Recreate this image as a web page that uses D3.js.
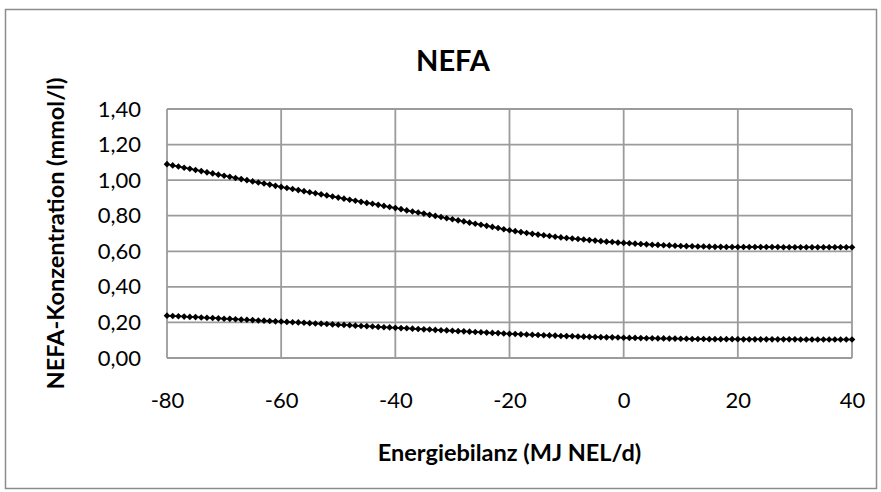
<!DOCTYPE html>
<html>
<head>
<meta charset="utf-8">
<script src="https://cdn.jsdelivr.net/npm/d3@7"></script>
<style>
  body { margin: 0; background: #fff; }
  text { font-family: Lato, "Open Sans", sans-serif; fill: #000; }
</style>
</head>
<body>
<div id="chart"></div>
<script>
// Energiebilanz (MJ NEL/d), ein Punkt pro Einheit von -80 bis 40
const energyStart = -80;

// obere Kurve (mmol/l)
const upperSeries = [
  1.090, 1.083, 1.077, 1.070, 1.064, 1.057, 1.051, 1.044, 1.038, 1.031,
  1.025, 1.019, 1.012, 1.006, 1.000, 0.993, 0.987, 0.981, 0.975, 0.968,
  0.962, 0.956, 0.950, 0.944, 0.938, 0.932, 0.926, 0.920, 0.914, 0.908,
  0.902, 0.896, 0.890, 0.884, 0.878, 0.872, 0.867, 0.861, 0.855, 0.849,
  0.843, 0.837, 0.830, 0.824, 0.818, 0.812, 0.805, 0.799, 0.793, 0.786,
  0.780, 0.774, 0.768, 0.761, 0.755, 0.749, 0.743, 0.737, 0.731, 0.724,
  0.718, 0.713, 0.708, 0.703, 0.698, 0.694, 0.690, 0.686, 0.682, 0.678,
  0.675, 0.672, 0.669, 0.666, 0.663, 0.660, 0.657, 0.654, 0.652, 0.649,
  0.647, 0.645, 0.643, 0.641, 0.639, 0.637, 0.636, 0.634, 0.633, 0.631,
  0.630, 0.629, 0.628, 0.627, 0.627, 0.626, 0.625, 0.625, 0.624, 0.624,
  0.624, 0.624, 0.624, 0.624, 0.624, 0.624, 0.624, 0.624, 0.623, 0.623,
  0.623, 0.623, 0.623, 0.623, 0.623, 0.623, 0.623, 0.623, 0.623, 0.623,
  0.623
];

// untere Kurve (mmol/l)
const lowerSeries = [
  0.238, 0.236, 0.235, 0.233, 0.231, 0.230, 0.228, 0.226, 0.225, 0.223,
  0.221, 0.220, 0.218, 0.216, 0.215, 0.213, 0.211, 0.210, 0.208, 0.206,
  0.205, 0.203, 0.201, 0.200, 0.198, 0.196, 0.194, 0.193, 0.191, 0.189,
  0.187, 0.186, 0.184, 0.182, 0.180, 0.179, 0.177, 0.175, 0.173, 0.172,
  0.170, 0.168, 0.167, 0.165, 0.163, 0.161, 0.160, 0.158, 0.156, 0.155,
  0.153, 0.151, 0.150, 0.148, 0.146, 0.145, 0.143, 0.141, 0.140, 0.138,
  0.136, 0.135, 0.133, 0.132, 0.131, 0.129, 0.128, 0.127, 0.126, 0.124,
  0.123, 0.122, 0.121, 0.120, 0.119, 0.118, 0.117, 0.116, 0.116, 0.115,
  0.114, 0.113, 0.113, 0.112, 0.111, 0.111, 0.110, 0.110, 0.109, 0.109,
  0.108, 0.108, 0.107, 0.107, 0.107, 0.106, 0.106, 0.106, 0.106, 0.106,
  0.106, 0.105, 0.105, 0.105, 0.105, 0.105, 0.105, 0.105, 0.105, 0.105,
  0.105, 0.104, 0.104, 0.104, 0.104, 0.104, 0.104, 0.104, 0.104, 0.104,
  0.104
];

const xTicks = [-80, -60, -40, -20, 0, 20, 40];
const yTicks = [0, 0.2, 0.4, 0.6, 0.8, 1.0, 1.2, 1.4];

const chartTitle = "NEFA";
const xTitle = "Energiebilanz (MJ NEL/d)";
const yTitle = "NEFA-Konzentration (mmol/l)";

(() => {
    const W = 881, H = 492;
    const plotLeft = 167, plotRight = 852, plotTop = 109, plotBottom = 358;
    const gridColor = "#9b9b9b";

    const de = d3.formatLocale({ decimal: ",", thousands: ".", grouping: [3], currency: ["", " €"], minus: "-" });
    const fmtY = de.format(".2f");
    const fmtX = de.format("d");

    const x = d3.scaleLinear().domain([-80, 40]).range([plotLeft, plotRight]);
    const y = d3.scaleLinear().domain([0, 1.4]).range([plotBottom, plotTop]);

    const svg = d3.select("#chart").append("svg")
        .attr("width", W)
        .attr("height", H);

    svg.append("rect").attr("width", W).attr("height", H).attr("fill", "#fff");

    // Rahmen des Diagrammbereichs
    svg.append("rect")
        .attr("x", 5.5).attr("y", 9.5)
        .attr("width", 871).attr("height", 479)
        .attr("fill", "none")
        .attr("stroke", "#8c8c8c")
        .attr("stroke-width", 1.5);

    // Gitterlinien
    svg.append("g")
        .selectAll("line")
        .data(yTicks)
        .join("line")
        .attr("x1", plotLeft).attr("x2", plotRight)
        .attr("y1", d => y(d)).attr("y2", d => y(d))
        .attr("stroke", gridColor).attr("stroke-width", 1.8);

    svg.append("g")
        .selectAll("line")
        .data(xTicks)
        .join("line")
        .attr("x1", d => x(d)).attr("x2", d => x(d))
        .attr("y1", plotTop).attr("y2", plotBottom)
        .attr("stroke", gridColor).attr("stroke-width", 1.8);

    // Achsen (nur Beschriftung, Linien kommen vom Gitter)
    const xAxis = svg.append("g")
        .attr("transform", `translate(0,${plotBottom})`)
        .call(d3.axisBottom(x).tickValues(xTicks).tickFormat(fmtX).tickSize(0).tickPadding(50));
    const yAxis = svg.append("g")
        .attr("transform", `translate(${plotLeft},0)`)
        .call(d3.axisLeft(y).tickValues(yTicks).tickFormat(fmtY).tickSize(0).tickPadding(26));

    [xAxis, yAxis].forEach(a => {
        a.select(".domain").remove();
        a.selectAll("text")
            .style("font-family", "Lato, sans-serif")
            .style("font-size", "22px")
            .attr("fill", "#000");
    });
    xAxis.selectAll("text").attr("dy", "0");

    // Datenreihen
    const toPoints = arr => arr.map((v, i) => ({ e: energyStart + i, v }));
    const series = [toPoints(upperSeries), toPoints(lowerSeries)];

    const line = d3.line().x(d => x(d.e)).y(d => y(d.v));
    const marker = d3.symbol().type(d3.symbolSquare).size(22);

    series.forEach(pts => {
        svg.append("path")
            .datum(pts)
            .attr("d", line)
            .attr("fill", "none")
            .attr("stroke", "#000")
            .attr("stroke-width", 1.5);

        svg.append("g")
            .selectAll("path")
            .data(pts)
            .join("path")
            .attr("d", marker)
            .attr("transform", d => `translate(${x(d.e)},${y(d.v)}) rotate(45)`)
            .attr("fill", "#000");
    });

    // Titel
    svg.append("text")
        .attr("x", 453).attr("y", 71)
        .attr("text-anchor", "middle")
        .style("font-size", "29px")
        .style("font-weight", "bold")
        .text(chartTitle);

    svg.append("text")
        .attr("x", (plotLeft + plotRight) / 2).attr("y", 461)
        .attr("text-anchor", "middle")
        .style("font-size", "23.5px")
        .style("font-weight", "bold")
        .text(xTitle);

    svg.append("text")
        .attr("transform", `translate(64,${(plotTop + plotBottom) / 2}) rotate(-90)`)
        .attr("text-anchor", "middle")
        .style("font-size", "23.5px")
        .style("font-weight", "bold")
        .text(yTitle);
})();
</script>
</body>
</html>
